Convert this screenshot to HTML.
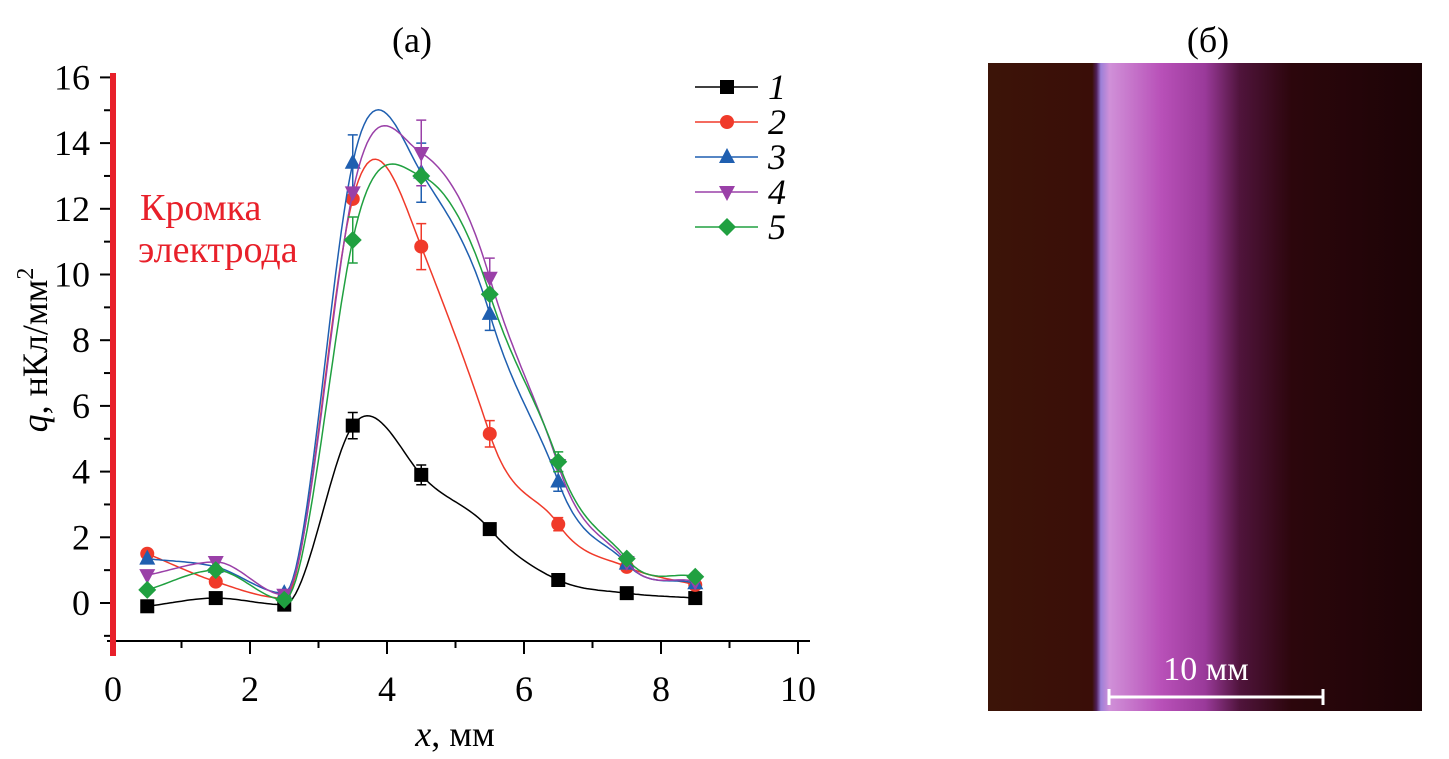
<!DOCTYPE html>
<html><head><meta charset="utf-8"><style>
body{margin:0;background:#fff;width:1449px;height:754px;overflow:hidden}
svg text{font-family:"Liberation Serif",serif}
</style></head><body>
<svg id="chart" width="1449" height="754">
<defs>
<linearGradient id="ph" x1="0" x2="1" y1="0" y2="0">
<stop offset="0" stop-color="#3c1408"/><stop offset="0.24" stop-color="#3a0e08"/>
<stop offset="0.25" stop-color="#50205a"/><stop offset="0.26" stop-color="#9c80d8"/>
<stop offset="0.28" stop-color="#d090d8"/><stop offset="0.4" stop-color="#b850b8"/>
<stop offset="0.5" stop-color="#9a3a9a"/><stop offset="0.58" stop-color="#50143c"/>
<stop offset="0.7" stop-color="#2c060c"/><stop offset="1" stop-color="#1c0406"/>
</linearGradient>
</defs>
<text x="412" y="52" font-size="36" text-anchor="middle">(a)</text>
<text x="1208" y="52" font-size="36" text-anchor="middle">(б)</text>
<g id="axes"></g>
<g id="plot"></g>
<text x="140" y="220" font-size="38" fill="#e8202a">Кромка</text>
<text x="138" y="262" font-size="38" fill="#e8202a">электрода</text>
<text transform="translate(47,350) rotate(-90)" font-size="36" text-anchor="middle"><tspan font-style="italic">q</tspan>, нКл/мм<tspan dy="-14" font-size="24">2</tspan></text>
<text x="455" y="746" font-size="36" text-anchor="middle"><tspan font-style="italic">x</tspan>, мм</text>
<g id="legend"></g>
<rect x="988" y="63" width="434" height="648" fill="url(#ph)"/>
<line x1="1109" y1="697" x2="1323" y2="697" stroke="#fff" stroke-width="3"/>
<line x1="1109" y1="689" x2="1109" y2="705" stroke="#fff" stroke-width="3"/>
<line x1="1323" y1="689" x2="1323" y2="705" stroke="#fff" stroke-width="3"/>
<text x="1206" y="680" font-size="34" fill="#fff" text-anchor="middle">10 мм</text>
</svg>
<script>
const xs=[0.5,1.5,2.5,3.5,4.5,5.5,6.5,7.5,8.5];
const s1=[-0.1,0.15,-0.05,5.4,3.9,2.25,0.7,0.3,0.15];
const s2=[1.5,0.65,0.15,12.3,10.85,5.15,2.4,1.1,0.55];
const s3=[1.35,1.1,0.3,13.4,13.1,8.8,3.7,1.2,0.6];
const s4=[0.85,1.25,0.25,12.5,13.7,9.9,4.2,1.25,0.65];
const s5=[0.4,1.0,0.1,11.05,13.0,9.4,4.3,1.35,0.8];
const e1=[0,0,0,0.4,0.3,0,0,0,0];
const e2=[0,0,0,0,0.7,0.4,0.2,0,0];
const e3=[0,0,0,0.85,0.9,0.5,0.3,0,0];
const e4=[0,0,0,0,1.0,0.6,0,0,0];
const e5=[0,0,0,0.7,0,0,0.3,0,0];
const xTicks=[0,2,4,6,8,10];
const yTicks=[0,2,4,6,8,10,12,14,16];
const names=["1","2","3","4","5"];
const colors=["#000","#f03a2a","#1f5fb0","#9a40a8","#20a040"];
const markers=["square","circle","tri","tridown","diamond"];
const series=[s1,s2,s3,s4,s5], errs=[e1,e2,e3,e4,e5];
const NS="http://www.w3.org/2000/svg";
const X=v=>113+v*68.5, Y=v=>603-v*32.85;
function mk(t,a,p){const e=document.createElementNS(NS,t);for(const k in a)e.setAttribute(k,a[k]);p.appendChild(e);return e;}
const ax=document.getElementById('axes'),pl=document.getElementById('plot'),lg=document.getElementById('legend');
const xl=mk('line',{x1:107,y1:641,x2:810,y2:641,stroke:'#000','stroke-width':2},ax);


for(let v=0;v<=10;v++){mk('line',{x1:X(v),y1:641,x2:X(v),y2:v%2?648:654,stroke:'#000','stroke-width':2},ax);}
xTicks.forEach(v=>{const t=mk('text',{x:X(v),y:701,'font-size':36,'text-anchor':'middle'},ax);t.textContent=v;

});
for(let v=-1;v<=16;v++){mk('line',{x1:v%2?104:100,y1:Y(v),x2:111,y2:Y(v),stroke:'#000','stroke-width':2},ax);}
yTicks.forEach(v=>{const t=mk('text',{x:90,y:Y(v)+12,'font-size':36,'text-anchor':'end'},ax);t.textContent=v;

});
const rl=mk('line',{x1:113,y1:73,x2:113,y2:656,stroke:'#e8202a','stroke-width':6},ax);


function curve(x,y){const n=x.length,m=[];
for(let i=0;i<n;i++){
 if(i==0)m[i]=(y[1]-y[0])/(x[1]-x[0]);
 else if(i==n-1)m[i]=(y[n-1]-y[n-2])/(x[n-1]-x[n-2]);
 else{m[i]=(y[i+1]-y[i-1])/(x[i+1]-x[i-1]);
  if(y[i]<y[i-1]&&y[i]<y[i+1])m[i]=0;
  else if(y[i]>y[i-1]&&y[i]>y[i+1]&&y[i]<3)m[i]=0;
  else if(Math.abs(y[i+1]-y[i-1])>3)m[i]*=1.5;}
}
let p='';for(let j=0;j<n-1;j++){const h=x[j+1]-x[j];for(let k=0;k<=24;k++){const t=k/24,t2=t*t,t3=t2*t;
const v=(2*t3-3*t2+1)*y[j]+(t3-2*t2+t)*h*m[j]+(-2*t3+3*t2)*y[j+1]+(t3-t2)*h*m[j+1];
p+=(p?'L':'M')+X(x[j]+t*h).toFixed(1)+','+Y(v).toFixed(1);}}
return p;}
function marker(type,cx,cy,col,g){const r=7;
if(type=='square')return mk('rect',{x:cx-r,y:cy-r,width:2*r,height:2*r,fill:col},g);
if(type=='circle')return mk('circle',{cx,cy,r:r,fill:col},g);
if(type=='tri')return mk('polygon',{points:`${cx},${cy-9} ${cx+8},${cy+6} ${cx-8},${cy+6}`,fill:col},g);
if(type=='tridown')return mk('polygon',{points:`${cx},${cy+9} ${cx+8},${cy-6} ${cx-8},${cy-6}`,fill:col},g);
return mk('polygon',{points:`${cx},${cy-9} ${cx+9},${cy} ${cx},${cy+9} ${cx-9},${cy}`,fill:col},g);}
series.forEach((s,i)=>{const g=mk('g',{},pl);


mk('path',{d:curve(xs,s),fill:'none',stroke:colors[i],'stroke-width':1.5},g);
s.forEach((v,j)=>{const e=errs[i][j];if(e>0){const cx=X(xs[j]);
mk('path',{d:`M${cx},${Y(v-e)}V${Y(v+e)}M${cx-5},${Y(v-e)}h10M${cx-5},${Y(v+e)}h10`,stroke:colors[i],'stroke-width':1.5,fill:'none'},g);}
const m=marker(markers[i],X(xs[j]),Y(v),colors[i],g);

});
const ly=87+i*35;const le=mk('g',{},lg);


mk('line',{x1:695,y1:ly,x2:758,y2:ly,stroke:colors[i],'stroke-width':1.5},le);
marker(markers[i],727,ly,colors[i],le);
const t=mk('text',{x:768,y:ly+12,'font-size':36,'font-style':'italic'},le);t.textContent=names[i];});
</script>
</body></html>
